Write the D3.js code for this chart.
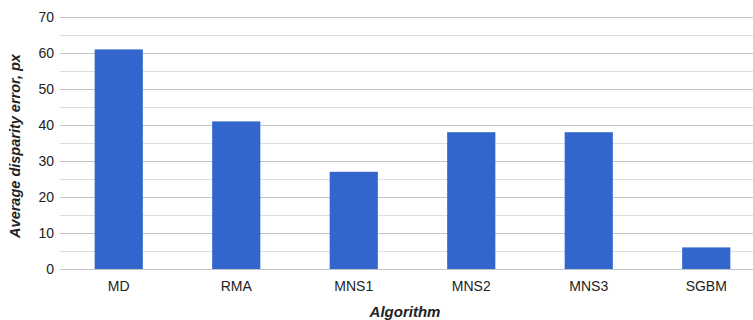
<!DOCTYPE html>
<html>
<head>
<meta charset="utf-8">
<script src="https://cdn.jsdelivr.net/npm/d3@7"></script>
<style>
  html, body { margin: 0; padding: 0; background: #fff; }
  svg { display: block; font-family: "Liberation Sans", Arial, sans-serif; }
</style>
</head>
<body>
<svg id="chart" width="753" height="320"></svg>
<script>
const categories = ["MD", "RMA", "MNS1", "MNS2", "MNS3", "SGBM"];
const values = [61, 41, 27, 38, 38, 6];
const yTicks = [0, 10, 20, 30, 40, 50, 60, 70];
const yMinor = [5, 15, 25, 35, 45, 55, 65];

const svg = d3.select("#chart");
const plotLeft = 60, gridRight = 753, bandRight = 765;
const plotTop = 17, plotBottom = 269;

const x = d3.scaleBand().domain(categories).range([plotLeft, bandRight]).paddingInner(0.59).paddingOuter(0.295);
const y = d3.scaleLinear().domain([0, 70]).range([plotBottom, plotTop]);

// minor gridlines
svg.append("g").selectAll("line").data(yMinor).join("line")
  .attr("x1", plotLeft).attr("x2", gridRight)
  .attr("y1", d => Math.round(y(d)) + 0.5).attr("y2", d => Math.round(y(d)) + 0.5)
  .attr("stroke", "#dedede").attr("stroke-width", 1);

// major gridlines
svg.append("g").selectAll("line").data(yTicks).join("line")
  .attr("x1", plotLeft).attr("x2", gridRight)
  .attr("y1", d => Math.round(y(d)) + 0.5).attr("y2", d => Math.round(y(d)) + 0.5)
  .attr("stroke", "#c4c4c4").attr("stroke-width", 1);

// bars
svg.append("g").selectAll("rect").data(categories).join("rect")
  .attr("x", d => x(d))
  .attr("width", x.bandwidth())
  .attr("y", (d, i) => y(values[i]))
  .attr("height", (d, i) => y(0) - y(values[i]))
  .attr("fill", "#3366cc");

// baseline
svg.append("line")
  .attr("x1", plotLeft).attr("x2", gridRight)
  .attr("y1", Math.round(y(0)) + 0.5).attr("y2", Math.round(y(0)) + 0.5)
  .attr("stroke", "#c4c4c4");

// y tick labels
svg.append("g").selectAll("text").data(yTicks).join("text")
  .attr("x", 54).attr("y", d => y(d))
  .attr("dy", "0.36em")
  .attr("text-anchor", "end")
  .attr("font-size", 14)
  .attr("fill", "#222")
  .text(d => d);

// x tick labels
svg.append("g").selectAll("text").data(categories).join("text")
  .attr("x", d => x(d) + x.bandwidth() / 2)
  .attr("y", 291)
  .attr("text-anchor", "middle")
  .attr("font-size", 14)
  .attr("fill", "#222")
  .text(d => d);

// axis titles
svg.append("text")
  .attr("x", 405).attr("y", 317)
  .attr("text-anchor", "middle")
  .attr("font-size", 15).attr("font-weight", "bold").attr("font-style", "italic")
  .attr("fill", "#222")
  .text("Algorithm");

svg.append("text")
  .attr("transform", "translate(20, 146) rotate(-90)")
  .attr("text-anchor", "middle")
  .attr("font-size", 14.5).attr("font-weight", "bold").attr("font-style", "italic")
  .attr("fill", "#222")
  .text("Average disparity error, px");
</script>
</body>
</html>
